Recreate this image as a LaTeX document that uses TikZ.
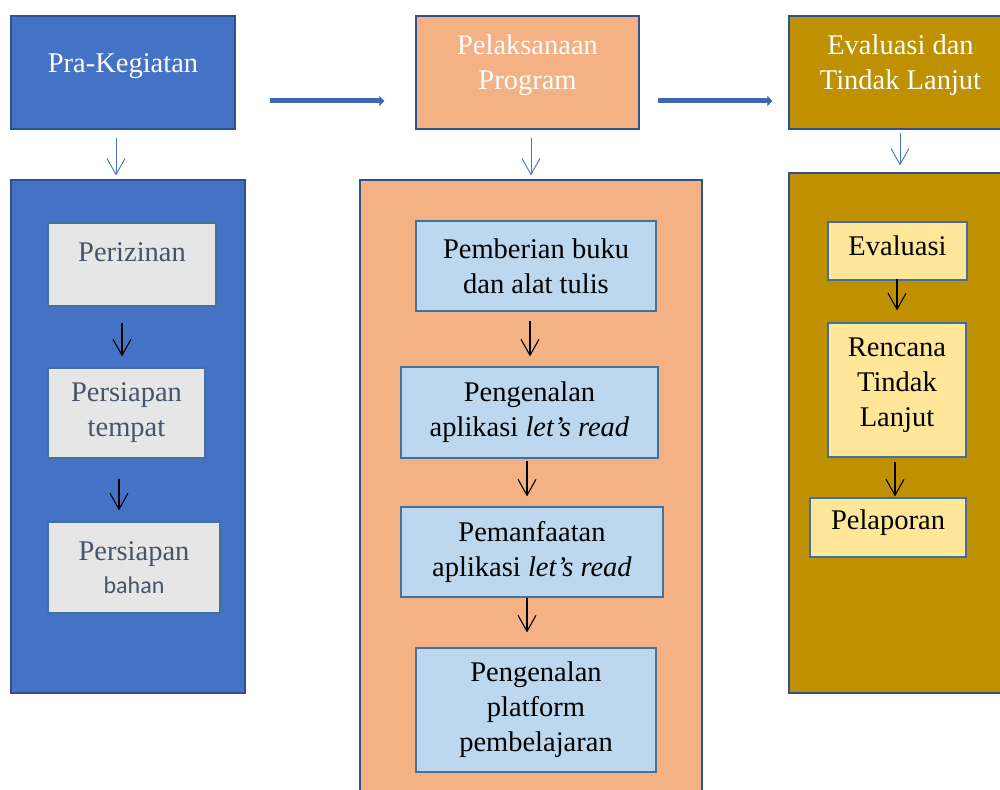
\documentclass[tikz,border=0pt]{standalone}
\usepackage{fontspec}
\setmainfont{Liberation Serif}
\newfontfamily\bahanfont{Carlito}
\usetikzlibrary{arrows.meta}

\definecolor{prablue}{HTML}{4472C4}
\definecolor{pelpeach}{HTML}{F4B183}
\definecolor{evagold}{HTML}{BF9000}
\definecolor{edgeblue}{HTML}{2F528F}
\definecolor{inneredge}{HTML}{41719C}
\definecolor{izingrey}{HTML}{E7E6E6}
\definecolor{izintext}{HTML}{44546A}
\definecolor{bukublue}{HTML}{BDD7EE}
\definecolor{evalyellow}{HTML}{FFE699}

\newcommand*\txtsize{\fontsize{28.5}{35}\selectfont}

\tikzset{
    phase/.style 2 args={
        draw=edgeblue,
        line width=1.2pt,
        rectangle,
        fill=#1,
        text=white,
        font=\txtsize,
        align=center,
        inner sep=0pt,
        minimum width=#2,
        minimum height=113pt
    },
    frame/.style={
        draw=edgeblue,
        line width=1.2pt,
        rectangle,
        fill=#1,
        inner sep=0pt
    },
    stepbox/.style 2 args={
        draw=inneredge,
        line width=1.2pt,
        rectangle,
        fill=#1,
        font=\txtsize,
        align=center,
        inner sep=0pt,
        minimum width=#2
    },
    down/.style={
        draw=prablue,
        line width=0.9pt,
        -{Straight Barb[length=16pt,width=18pt]}
    },
    flow/.style={
        draw=black,
        line width=1.1pt,
        -{Straight Barb[length=16pt,width=18pt]}
    },
    phasearrow/.style={
        draw=prablue!90!black,
        line width=5pt,
        -{Triangle[length=5pt,width=10pt]}
    }
}

\begin{document}
\begin{tikzpicture}[x=1pt,y=-1pt]

    \clip (0,0) rectangle (1000,789);

    % The three phases along the top.
    \node[phase={prablue}{224pt}, text depth=18pt] (pra) at (123,72.5) {Pra-Kegiatan};
    \node[phase={pelpeach}{223pt}, text depth=20pt] (pel) at (527.5,72.5) {Pelaksanaan\\Program};
    \node[phase={evagold}{223pt}, text depth=20pt] (eva) at (900.5,72.5) {Evaluasi dan\\Tindak Lanjut};

    % The frames that hold the steps of each phase.
    \node[frame=prablue, minimum width=234pt, minimum height=513pt] (praframe) at (128,436.5) {};
    \node[frame=pelpeach, minimum width=342pt, minimum height=620pt] (pelframe) at (531,490) {};
    \node[frame=evagold, minimum width=222pt, minimum height=520pt] (evaframe) at (900,433) {};

    % Arrows between the phases.
    \draw[phasearrow, shorten <=34pt, shorten >=31pt] ([yshift=-28.5pt]pra.east) -- ([yshift=-28.5pt]pel.west);
    \draw[phasearrow, shorten <=18pt, shorten >=16pt] ([yshift=-28.5pt]pel.east) -- ([yshift=-28.5pt]eva.west);

    % Arrows from each phase down to its frame.
    \draw[down, shorten <=8pt, shorten >=4pt] ([xshift=-7pt]pra.south) -- ([xshift=-7pt]pra.south |- praframe.north);
    \draw[down, shorten <=8pt, shorten >=4pt] ([xshift=3.5pt]pel.south) -- ([xshift=3.5pt]pel.south |- pelframe.north);
    \draw[down, shorten <=3pt, shorten >=7pt] ([xshift=-0.5pt]eva.south) -- ([xshift=-0.5pt]eva.south |- evaframe.north);

    % Pra-Kegiatan
    \node[stepbox={izingrey}{168pt}, text=izintext, minimum height=83pt, text depth=24pt] (izin) at (132,264.5) {Perizinan};
    \node[stepbox={izingrey}{157pt}, text=izintext, minimum height=90pt] (tempat) at (126.5,413) {Persiapan\\tempat};
    \node[stepbox={izingrey}{172pt}, text=izintext, minimum height=91pt] (bahan) at (134,567.5) {Persiapan\\[-2pt]{\bahanfont\fontsize{24}{30}\selectfont bahan}};
    \draw[flow, shorten <=16pt, shorten >=11pt] (122,0 |- izin.south) -- (122,0 |- tempat.north);
    \draw[flow, shorten <=20pt, shorten >=11pt] (119,0 |- tempat.south) -- (119,0 |- bahan.north);

    % Pelaksanaan Program
    \node[stepbox={bukublue}{240pt}, minimum height=90pt] (buku) at (536,266) {Pemberian buku\\dan alat tulis};
    \node[stepbox={bukublue}{257pt}, minimum height=91pt] (kenal) at (529.5,412.5) {Pengenalan\\aplikasi \textit{let's read}};
    \node[stepbox={bukublue}{262pt}, minimum height=90pt] (manfaat) at (532,552) {Pemanfaatan\\aplikasi \textit{let's read}};
    \node[stepbox={bukublue}{240pt}, minimum height=124pt] (platform) at (536,710) {Pengenalan\\platform\\pembelajaran};
    \draw[flow, shorten <=9pt, shorten >=10pt] (530,0 |- buku.south) -- (530,0 |- kenal.north);
    \draw[flow, shorten <=2pt, shorten >=10pt] (527,0 |- kenal.south) -- (527,0 |- manfaat.north);
    \draw[flow, shorten <=0pt, shorten >=15pt] (527,0 |- manfaat.south) -- (527,0 |- platform.north);

    % Evaluasi dan Tindak Lanjut
    \node[stepbox={evalyellow}{139pt}, minimum height=58pt, text depth=10pt] (evalin) at (897.5,251) {Evaluasi};
    \node[stepbox={evalyellow}{138pt}, minimum height=134pt, text depth=16pt] (rencana) at (897,390) {Rencana\\Tindak\\Lanjut};
    \node[stepbox={evalyellow}{156pt}, minimum height=59pt, text depth=16pt] (lapor) at (888,527.5) {Pelaporan};
    \draw[flow, shorten <=-2pt, shorten >=12pt] (897,0 |- evalin.south) -- (897,0 |- rencana.north);
    \draw[flow, shorten <=4pt, shorten >=1pt] (895,0 |- rencana.south) -- (895,0 |- lapor.north);

\end{tikzpicture}
\end{document}
